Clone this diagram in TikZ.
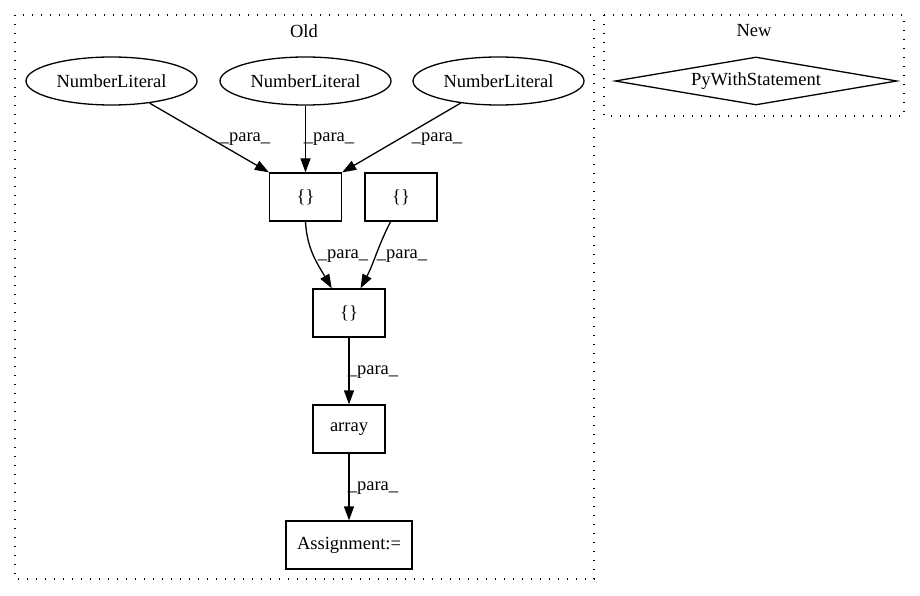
\documentclass[tikz,border=0pt]{standalone}
\usepackage{fontspec}
\setmainfont{Liberation Serif}
\usetikzlibrary{shapes.geometric,arrows.meta}
\begin{document}
\begin{tikzpicture}[x=1pt,y=-1pt,
  every node/.style={font=\fontsize{18.5}{22}\selectfont, inner sep=0pt},
  cluster/.style={draw, line width=1.3pt, dash pattern=on 1.3pt off 7.7pt},
  ellnode/.style={ellipse, draw, line width=1.3pt, minimum width=171pt, minimum height=48pt},
  boxnode/.style={rectangle, draw, line width=1.3pt, minimum width=72pt, minimum height=48pt},
  diamnode/.style={diamond, draw, line width=1.3pt, aspect=5.9, minimum width=282pt, minimum height=48pt},
  edge/.style={draw, line width=1.3pt, -{Triangle[length=14pt,width=10pt]}},
  lbl/.style={anchor=center}]
\useasboundingbox (0,0) rectangle (920,596);
% clusters
\draw[cluster] (15,15) rectangle (594,579);
\draw[cluster] (604,15) rectangle (904,116);
\node (oldlbl) at (304,31) {Old};
\node (newlbl) at (754,31) {New};
% nodes
\node[ellnode] (e1) at (111.5,81) {NumberLiteral};
\node[ellnode] (e2) at (305.5,81) {NumberLiteral};
\node[ellnode] (e3) at (498.5,81) {NumberLiteral};
\node[boxnode] (b1) at (305.5,197) {\{\}};
\node[boxnode] (b2) at (401,197) {\{\}};
\node[boxnode] (b3) at (349,313) {\{\}};
\node[boxnode] (arr) at (349,429) {array};
\node[boxnode, minimum width=126pt] (asg) at (349,545) {Assignment:=};
\node[diamnode] (pw) at (756,81) {PyWithStatement};
% edges
\draw[edge] (e1) -- (b1.north west);
\draw[edge] (e2) -- (b1);
\draw[edge] (e3) -- (b1.north east);
\draw[edge] (b1.south) to[out=-87,in=120] (b3.125);
\draw[edge] (b2.-113) to[out=-117,in=62] (b3.65);
\draw[edge] (b3) -- (arr);
\draw[edge] (arr) -- (asg);
% labels
\node[lbl] (l1) at (245,139) {\_para\_};
\node[lbl] (l2) at (329,139) {\_para\_};
\node[lbl] (l3) at (437,139) {\_para\_};
\node[lbl] (l4) at (343,256) {\_para\_};
\node[lbl] (l5) at (402,256) {\_para\_};
\node[lbl] (l6) at (373,372) {\_para\_};
\node[lbl] (l7) at (373,488) {\_para\_};
\end{tikzpicture}
\end{document}
